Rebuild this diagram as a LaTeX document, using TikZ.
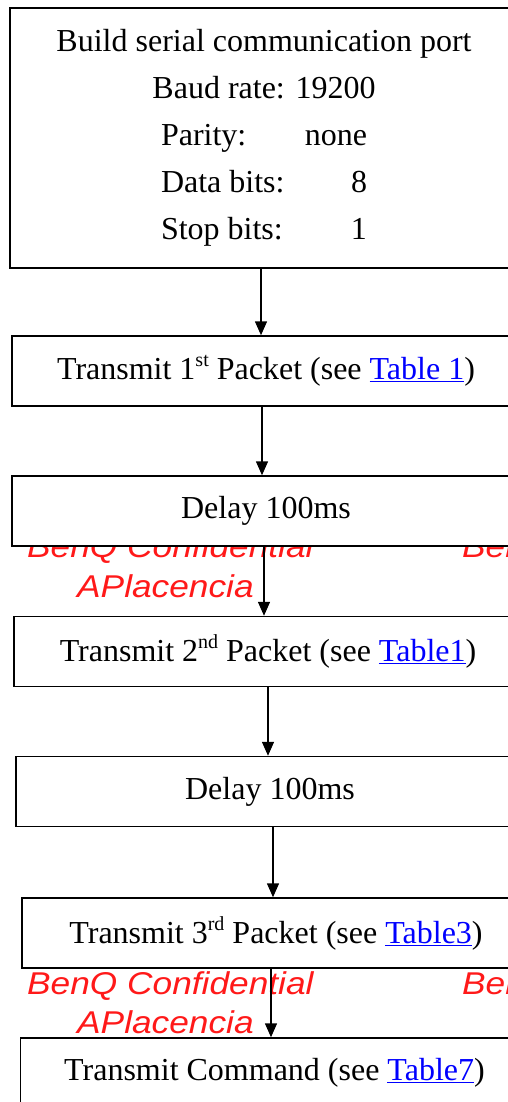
\documentclass[tikz,border=0pt]{standalone}
\usepackage{fontspec}
\setmainfont{Liberation Serif}
\newfontfamily\wmfont[FakeStretch=1.12]{Liberation Sans}
\usepackage{xcolor}
\usetikzlibrary{arrows.meta, calc}

\newcommand{\tabref}[1]{\textcolor{blue}{\underline{#1}}}
\newcommand{\ordsup}[1]{\raisebox{13pt}{\fontsize{20}{20}\selectfont #1}}

\begin{document}
\begin{tikzpicture}[x=1pt, y=-1pt,
	box/.style={draw=black, fill=white, line width=1.5pt, minimum width=508pt,
		minimum height=70pt, inner sep=0pt, font=\fontsize{32}{47}\selectfont},
	flow/.style={-{Triangle[width=12pt,length=14pt]}, line width=1.5pt},
	wm/.style={anchor=base west, inner sep=0pt, text=red!90!white,
		font=\wmfont\itshape\fontsize{31.5}{31.5}\selectfont}]

	\useasboundingbox (0,0) rectangle (508,1102);

	% watermark, under the boxes
	\node[wm] (wa1) at (27,557) {BenQ Confidential};
	\node[wm] (wa2) at (462,557) {BenQ Confidential};
	\node[wm] (wa3) at (77,597) {APlacencia};
	\node[wm] (wb1) at (27,994) {BenQ Confidential};
	\node[wm] (wb2) at (462,994) {BenQ Confidential};
	\node[wm] (wb3) at (77,1033) {APlacencia};

	\node[box, minimum height=260pt, align=center] (b1) at (264,138)
		{Build serial communication port\\
		 Baud rate: 19200\\
		 \makebox[206pt]{Parity:\hfill none}\\
		 \makebox[206pt]{Data bits:\hfill 8}\\
		 \makebox[206pt]{Stop bits:\hfill 1}};
	\node[box] (b2) at (266,371) {Transmit 1\ordsup{st} Packet (see \tabref{Table 1})};
	\node[box] (b3) at (266,511) {Delay 100ms};
	\node[box] (b4) at (268,651.5) {Transmit 2\ordsup{nd} Packet (see \tabref{Table1})};
	\node[box] (b5) at (270,791.5) {Delay 100ms};
	\node[box] (b6) at (276,933) {Transmit 3\ordsup{rd} Packet (see \tabref{Table3})};
	\node[box] (b7) at (274.5,1073) {Transmit Command (see \tabref{Table7})};

	\foreach \a/\b/\dx in {b1/b2/-3, b2/b3/-4, b3/b4/-2, b4/b5/0, b5/b6/3, b6/b7/-5}
		\draw[flow] ([xshift=\dx]\a.south) -- ([xshift=\dx]\a.south |- \b.north);

\end{tikzpicture}
\end{document}
